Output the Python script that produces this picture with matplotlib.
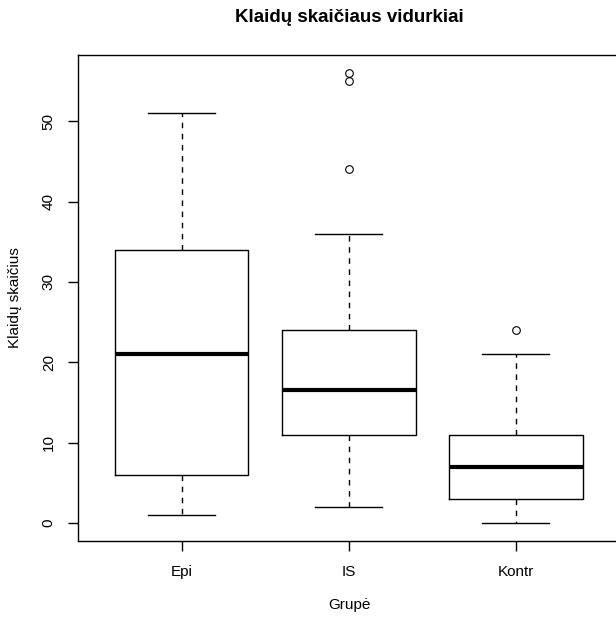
import matplotlib
matplotlib.use("Agg")
import matplotlib.pyplot as plt

plt.rcParams['font.family'] = ['Liberation Sans', 'DejaVu Sans']

#================================
#   DATA
#================================
groups = ["Epi", "IS", "Kontr"]
whislo = [1, 2, 0]
q1 = [6, 11, 3]
med = [21, 16.5, 7]
q3 = [34, 24, 11]
whishi = [51, 36, 21]
fliers = [[], [44, 55, 56], [24]]

stats = []
for i, g in enumerate(groups):
    stats.append({'label': g, 'whislo': whislo[i], 'q1': q1[i], 'med': med[i],
                  'q3': q3[i], 'whishi': whishi[i], 'fliers': fliers[i]})

#================================
#   FIGURE
#================================
W, H = 616, 617
fig = plt.figure(figsize=(W/100., H/100.), dpi=100)
# plot region (right edge runs past the image, as in the reference)
ax = fig.add_axes([78/W, 1-541/H, (619.5-78)/W, (541-55)/H])

ax.bxp(stats, positions=[1, 2, 3], widths=0.8, capwidths=0.4,
       boxprops=dict(color='black', linewidth=1.0),
       whiskerprops=dict(color='black', linewidth=1.0, linestyle=(0, (4, 4))),
       capprops=dict(color='black', linewidth=1.0),
       medianprops=dict(color='black', linewidth=3.0, solid_capstyle='butt'),
       flierprops=dict(marker='o', markerfacecolor='none', markeredgecolor='black',
                       markersize=5.5, markeredgewidth=0.8))

ax.set_xlim(0.38, 3.62)
ax.set_ylim(-2.24, 58.24)
ax.set_yticks([0, 10, 20, 30, 40, 50])
ax.set_xticks([1, 2, 3])
ax.set_xticklabels(groups)

for lbl in ax.get_yticklabels():
    lbl.set_rotation(90)
    lbl.set_va('center')

ax.tick_params(axis='both', direction='out', length=7, width=1, labelsize=11, colors='black')
ax.tick_params(axis='y', pad=9)
ax.tick_params(axis='x', pad=10)
for s in ax.spines.values():
    s.set_linewidth(1.0)

ax.set_ylabel("Klaidų skaičius", fontsize=11, va='center')
ax.yaxis.set_label_coords((15-78)/541.5, 0.5)
ax.set_xlabel("Grupė", fontsize=11, va='center')
ax.xaxis.set_label_coords((349-78)/541.5, -(605-541)/486.)
fig.text(349/W, 1-18/H, "Klaidų skaičiaus vidurkiai", fontsize=13.5, fontweight='bold',
         ha='center', va='center')

fig.savefig("out.png", dpi=100)
